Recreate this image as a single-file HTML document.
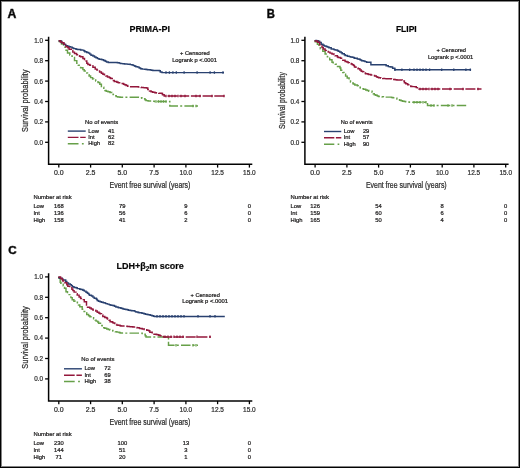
<!DOCTYPE html>
<html><head><meta charset="utf-8"><style>
html,body{margin:0;padding:0;background:#fff;}
#fig{position:relative;width:520px;height:468px;overflow:hidden;background:#fff;}
#fig svg{position:absolute;left:0;top:0;}
text{font-family:"Liberation Sans", sans-serif;stroke:currentColor;stroke-width:0.24px;}
svg{color:#222;}
</style></head><body>
<div id="fig">
<svg width="520" height="468" viewBox="0 0 520 468">
<g opacity="0.995"><text x="7.6" y="17.7" font-size="12.2" text-anchor="start" font-weight="bold" fill="#000" style="stroke-width:0.5px">A</text>
<text x="266.7" y="17.5" font-size="11.9" text-anchor="start" font-weight="bold" textLength="8.1" lengthAdjust="spacingAndGlyphs" fill="#000" style="stroke-width:0.5px">B</text>
<text x="8.2" y="254.3" font-size="11.7" text-anchor="start" font-weight="bold" textLength="8.4" lengthAdjust="spacingAndGlyphs" fill="#000" style="stroke-width:0.5px">C</text>
<g transform="translate(0,0)">
<path d="M48.6,36.7 V164.3 H252.3" fill="none" stroke="#000" stroke-width="1.5"/>
<path d="M45.1,142.3 H48.6" stroke="#000" stroke-width="1.3"/>
<text x="43.1" y="144.7" font-size="7.6" text-anchor="end" textLength="8.8" lengthAdjust="spacingAndGlyphs" fill="#333">0.0</text>
<path d="M45.1,121.9 H48.6" stroke="#000" stroke-width="1.3"/>
<text x="43.1" y="124.2" font-size="7.6" text-anchor="end" textLength="8.8" lengthAdjust="spacingAndGlyphs" fill="#333">0.2</text>
<path d="M45.1,101.5 H48.6" stroke="#000" stroke-width="1.3"/>
<text x="43.1" y="103.9" font-size="7.6" text-anchor="end" textLength="8.8" lengthAdjust="spacingAndGlyphs" fill="#333">0.4</text>
<path d="M45.1,81.1 H48.6" stroke="#000" stroke-width="1.3"/>
<text x="43.1" y="83.5" font-size="7.6" text-anchor="end" textLength="8.8" lengthAdjust="spacingAndGlyphs" fill="#333">0.6</text>
<path d="M45.1,60.7 H48.6" stroke="#000" stroke-width="1.3"/>
<text x="43.1" y="63.1" font-size="7.6" text-anchor="end" textLength="8.8" lengthAdjust="spacingAndGlyphs" fill="#333">0.8</text>
<path d="M45.1,40.3 H48.6" stroke="#000" stroke-width="1.3"/>
<text x="43.1" y="42.7" font-size="7.6" text-anchor="end" textLength="8.8" lengthAdjust="spacingAndGlyphs" fill="#333">1.0</text>
<path d="M58.8,164.3 V167.6" stroke="#000" stroke-width="1.3"/>
<text x="58.8" y="175.0" font-size="7.6" text-anchor="middle" textLength="9.7" lengthAdjust="spacingAndGlyphs" fill="#333">0.0</text>
<path d="M90.6,164.3 V167.6" stroke="#000" stroke-width="1.3"/>
<text x="90.6" y="175.0" font-size="7.6" text-anchor="middle" textLength="9.7" lengthAdjust="spacingAndGlyphs" fill="#333">2.5</text>
<path d="M122.3,164.3 V167.6" stroke="#000" stroke-width="1.3"/>
<text x="122.3" y="175.0" font-size="7.6" text-anchor="middle" textLength="9.7" lengthAdjust="spacingAndGlyphs" fill="#333">5.0</text>
<path d="M154.1,164.3 V167.6" stroke="#000" stroke-width="1.3"/>
<text x="154.1" y="175.0" font-size="7.6" text-anchor="middle" textLength="9.7" lengthAdjust="spacingAndGlyphs" fill="#333">7.5</text>
<path d="M185.9,164.3 V167.6" stroke="#000" stroke-width="1.3"/>
<text x="185.9" y="175.0" font-size="7.6" text-anchor="middle" textLength="12.6" lengthAdjust="spacingAndGlyphs" fill="#333">10.0</text>
<path d="M217.6,164.3 V167.6" stroke="#000" stroke-width="1.3"/>
<text x="217.6" y="175.0" font-size="7.6" text-anchor="middle" textLength="12.6" lengthAdjust="spacingAndGlyphs" fill="#333">12.5</text>
<path d="M249.4,164.3 V167.6" stroke="#000" stroke-width="1.3"/>
<text x="249.4" y="175.0" font-size="7.6" text-anchor="middle" textLength="12.6" lengthAdjust="spacingAndGlyphs" fill="#333">15.0</text>
<text transform="translate(28.4,100.85) rotate(-90)" font-size="9.4" text-anchor="middle" textLength="62.4" lengthAdjust="spacingAndGlyphs" fill="#333">Survival probability</text>
<text x="109.6" y="188.10000000000002" font-size="8.9" text-anchor="start" textLength="80.8" lengthAdjust="spacingAndGlyphs" fill="#333">Event free survival (years)</text>
<text x="33.4" y="198.69" font-size="5.9" text-anchor="start" textLength="38.4" lengthAdjust="spacingAndGlyphs" fill="#231f20">Number at risk</text>
<text x="33.4" y="208.0" font-size="5.8" text-anchor="start" fill="#231f20">Low</text>
<text x="58.8" y="208.0" font-size="5.8" text-anchor="middle" fill="#231f20">168</text>
<text x="122.3" y="208.0" font-size="5.8" text-anchor="middle" fill="#231f20">79</text>
<text x="185.9" y="208.0" font-size="5.8" text-anchor="middle" fill="#231f20">9</text>
<text x="249.4" y="208.0" font-size="5.8" text-anchor="middle" fill="#231f20">0</text>
<text x="33.4" y="214.9" font-size="5.8" text-anchor="start" fill="#231f20">Int</text>
<text x="58.8" y="214.9" font-size="5.8" text-anchor="middle" fill="#231f20">136</text>
<text x="122.3" y="214.9" font-size="5.8" text-anchor="middle" fill="#231f20">56</text>
<text x="185.9" y="214.9" font-size="5.8" text-anchor="middle" fill="#231f20">6</text>
<text x="249.4" y="214.9" font-size="5.8" text-anchor="middle" fill="#231f20">0</text>
<text x="33.4" y="221.8" font-size="5.8" text-anchor="start" fill="#231f20">High</text>
<text x="58.8" y="221.8" font-size="5.8" text-anchor="middle" fill="#231f20">158</text>
<text x="122.3" y="221.8" font-size="5.8" text-anchor="middle" fill="#231f20">41</text>
<text x="185.9" y="221.8" font-size="5.8" text-anchor="middle" fill="#231f20">2</text>
<text x="249.4" y="221.8" font-size="5.8" text-anchor="middle" fill="#231f20">0</text>
</g>
<g transform="translate(256.3,0)">
<path d="M48.6,36.7 V164.3 H252.3" fill="none" stroke="#000" stroke-width="1.5"/>
<path d="M45.1,142.3 H48.6" stroke="#000" stroke-width="1.3"/>
<text x="43.1" y="144.7" font-size="7.6" text-anchor="end" textLength="8.8" lengthAdjust="spacingAndGlyphs" fill="#333">0.0</text>
<path d="M45.1,121.9 H48.6" stroke="#000" stroke-width="1.3"/>
<text x="43.1" y="124.2" font-size="7.6" text-anchor="end" textLength="8.8" lengthAdjust="spacingAndGlyphs" fill="#333">0.2</text>
<path d="M45.1,101.5 H48.6" stroke="#000" stroke-width="1.3"/>
<text x="43.1" y="103.9" font-size="7.6" text-anchor="end" textLength="8.8" lengthAdjust="spacingAndGlyphs" fill="#333">0.4</text>
<path d="M45.1,81.1 H48.6" stroke="#000" stroke-width="1.3"/>
<text x="43.1" y="83.5" font-size="7.6" text-anchor="end" textLength="8.8" lengthAdjust="spacingAndGlyphs" fill="#333">0.6</text>
<path d="M45.1,60.7 H48.6" stroke="#000" stroke-width="1.3"/>
<text x="43.1" y="63.1" font-size="7.6" text-anchor="end" textLength="8.8" lengthAdjust="spacingAndGlyphs" fill="#333">0.8</text>
<path d="M45.1,40.3 H48.6" stroke="#000" stroke-width="1.3"/>
<text x="43.1" y="42.7" font-size="7.6" text-anchor="end" textLength="8.8" lengthAdjust="spacingAndGlyphs" fill="#333">1.0</text>
<path d="M58.8,164.3 V167.6" stroke="#000" stroke-width="1.3"/>
<text x="58.8" y="175.0" font-size="7.6" text-anchor="middle" textLength="9.7" lengthAdjust="spacingAndGlyphs" fill="#333">0.0</text>
<path d="M90.6,164.3 V167.6" stroke="#000" stroke-width="1.3"/>
<text x="90.6" y="175.0" font-size="7.6" text-anchor="middle" textLength="9.7" lengthAdjust="spacingAndGlyphs" fill="#333">2.5</text>
<path d="M122.3,164.3 V167.6" stroke="#000" stroke-width="1.3"/>
<text x="122.3" y="175.0" font-size="7.6" text-anchor="middle" textLength="9.7" lengthAdjust="spacingAndGlyphs" fill="#333">5.0</text>
<path d="M154.1,164.3 V167.6" stroke="#000" stroke-width="1.3"/>
<text x="154.1" y="175.0" font-size="7.6" text-anchor="middle" textLength="9.7" lengthAdjust="spacingAndGlyphs" fill="#333">7.5</text>
<path d="M185.9,164.3 V167.6" stroke="#000" stroke-width="1.3"/>
<text x="185.9" y="175.0" font-size="7.6" text-anchor="middle" textLength="12.6" lengthAdjust="spacingAndGlyphs" fill="#333">10.0</text>
<path d="M217.6,164.3 V167.6" stroke="#000" stroke-width="1.3"/>
<text x="217.6" y="175.0" font-size="7.6" text-anchor="middle" textLength="12.6" lengthAdjust="spacingAndGlyphs" fill="#333">12.5</text>
<path d="M249.4,164.3 V167.6" stroke="#000" stroke-width="1.3"/>
<text x="249.4" y="175.0" font-size="7.6" text-anchor="middle" textLength="12.6" lengthAdjust="spacingAndGlyphs" fill="#333">15.0</text>
<text transform="translate(28.4,100.6) rotate(-90)" font-size="9.4" text-anchor="middle" textLength="56.8" lengthAdjust="spacingAndGlyphs" fill="#333">Survival probability</text>
<text x="109.6" y="188.10000000000002" font-size="8.9" text-anchor="start" textLength="80.8" lengthAdjust="spacingAndGlyphs" fill="#333">Event free survival (years)</text>
<text x="34.3" y="198.66" font-size="5.9" text-anchor="start" textLength="38.4" lengthAdjust="spacingAndGlyphs" fill="#231f20">Number at risk</text>
<text x="34.3" y="207.89999999999998" font-size="5.8" text-anchor="start" fill="#231f20">Low</text>
<text x="58.8" y="207.89999999999998" font-size="5.8" text-anchor="middle" fill="#231f20">126</text>
<text x="122.3" y="207.89999999999998" font-size="5.8" text-anchor="middle" fill="#231f20">54</text>
<text x="185.9" y="207.89999999999998" font-size="5.8" text-anchor="middle" fill="#231f20">8</text>
<text x="249.4" y="207.89999999999998" font-size="5.8" text-anchor="middle" fill="#231f20">0</text>
<text x="34.3" y="214.79999999999998" font-size="5.8" text-anchor="start" fill="#231f20">Int</text>
<text x="58.8" y="214.79999999999998" font-size="5.8" text-anchor="middle" fill="#231f20">159</text>
<text x="122.3" y="214.79999999999998" font-size="5.8" text-anchor="middle" fill="#231f20">60</text>
<text x="185.9" y="214.79999999999998" font-size="5.8" text-anchor="middle" fill="#231f20">6</text>
<text x="249.4" y="214.79999999999998" font-size="5.8" text-anchor="middle" fill="#231f20">0</text>
<text x="34.3" y="221.7" font-size="5.8" text-anchor="start" fill="#231f20">High</text>
<text x="58.8" y="221.7" font-size="5.8" text-anchor="middle" fill="#231f20">165</text>
<text x="122.3" y="221.7" font-size="5.8" text-anchor="middle" fill="#231f20">50</text>
<text x="185.9" y="221.7" font-size="5.8" text-anchor="middle" fill="#231f20">4</text>
<text x="249.4" y="221.7" font-size="5.8" text-anchor="middle" fill="#231f20">0</text>
</g>
<g transform="translate(0,236.6)">
<path d="M48.6,36.7 V164.3 H252.3" fill="none" stroke="#000" stroke-width="1.5"/>
<path d="M45.1,142.3 H48.6" stroke="#000" stroke-width="1.3"/>
<text x="43.1" y="144.7" font-size="7.6" text-anchor="end" textLength="8.8" lengthAdjust="spacingAndGlyphs" fill="#333">0.0</text>
<path d="M45.1,121.9 H48.6" stroke="#000" stroke-width="1.3"/>
<text x="43.1" y="124.2" font-size="7.6" text-anchor="end" textLength="8.8" lengthAdjust="spacingAndGlyphs" fill="#333">0.2</text>
<path d="M45.1,101.5 H48.6" stroke="#000" stroke-width="1.3"/>
<text x="43.1" y="103.9" font-size="7.6" text-anchor="end" textLength="8.8" lengthAdjust="spacingAndGlyphs" fill="#333">0.4</text>
<path d="M45.1,81.1 H48.6" stroke="#000" stroke-width="1.3"/>
<text x="43.1" y="83.5" font-size="7.6" text-anchor="end" textLength="8.8" lengthAdjust="spacingAndGlyphs" fill="#333">0.6</text>
<path d="M45.1,60.7 H48.6" stroke="#000" stroke-width="1.3"/>
<text x="43.1" y="63.1" font-size="7.6" text-anchor="end" textLength="8.8" lengthAdjust="spacingAndGlyphs" fill="#333">0.8</text>
<path d="M45.1,40.3 H48.6" stroke="#000" stroke-width="1.3"/>
<text x="43.1" y="42.7" font-size="7.6" text-anchor="end" textLength="8.8" lengthAdjust="spacingAndGlyphs" fill="#333">1.0</text>
<path d="M58.8,164.3 V167.6" stroke="#000" stroke-width="1.3"/>
<text x="58.8" y="175.0" font-size="7.6" text-anchor="middle" textLength="9.7" lengthAdjust="spacingAndGlyphs" fill="#333">0.0</text>
<path d="M90.6,164.3 V167.6" stroke="#000" stroke-width="1.3"/>
<text x="90.6" y="175.0" font-size="7.6" text-anchor="middle" textLength="9.7" lengthAdjust="spacingAndGlyphs" fill="#333">2.5</text>
<path d="M122.3,164.3 V167.6" stroke="#000" stroke-width="1.3"/>
<text x="122.3" y="175.0" font-size="7.6" text-anchor="middle" textLength="9.7" lengthAdjust="spacingAndGlyphs" fill="#333">5.0</text>
<path d="M154.1,164.3 V167.6" stroke="#000" stroke-width="1.3"/>
<text x="154.1" y="175.0" font-size="7.6" text-anchor="middle" textLength="9.7" lengthAdjust="spacingAndGlyphs" fill="#333">7.5</text>
<path d="M185.9,164.3 V167.6" stroke="#000" stroke-width="1.3"/>
<text x="185.9" y="175.0" font-size="7.6" text-anchor="middle" textLength="12.6" lengthAdjust="spacingAndGlyphs" fill="#333">10.0</text>
<path d="M217.6,164.3 V167.6" stroke="#000" stroke-width="1.3"/>
<text x="217.6" y="175.0" font-size="7.6" text-anchor="middle" textLength="12.6" lengthAdjust="spacingAndGlyphs" fill="#333">12.5</text>
<path d="M249.4,164.3 V167.6" stroke="#000" stroke-width="1.3"/>
<text x="249.4" y="175.0" font-size="7.6" text-anchor="middle" textLength="12.6" lengthAdjust="spacingAndGlyphs" fill="#333">15.0</text>
<text transform="translate(28.4,100.85) rotate(-90)" font-size="9.4" text-anchor="middle" textLength="62.4" lengthAdjust="spacingAndGlyphs" fill="#333">Survival probability</text>
<text x="109.6" y="188.8" font-size="8.9" text-anchor="start" textLength="80.8" lengthAdjust="spacingAndGlyphs" fill="#333">Event free survival (years)</text>
<text x="33.4" y="198.93" font-size="5.9" text-anchor="start" textLength="38.4" lengthAdjust="spacingAndGlyphs" fill="#231f20">Number at risk</text>
<text x="33.4" y="208.79999999999998" font-size="5.8" text-anchor="start" fill="#231f20">Low</text>
<text x="58.8" y="208.79999999999998" font-size="5.8" text-anchor="middle" fill="#231f20">230</text>
<text x="122.3" y="208.79999999999998" font-size="5.8" text-anchor="middle" fill="#231f20">100</text>
<text x="185.9" y="208.79999999999998" font-size="5.8" text-anchor="middle" fill="#231f20">13</text>
<text x="249.4" y="208.79999999999998" font-size="5.8" text-anchor="middle" fill="#231f20">0</text>
<text x="33.4" y="215.7" font-size="5.8" text-anchor="start" fill="#231f20">Int</text>
<text x="58.8" y="215.7" font-size="5.8" text-anchor="middle" fill="#231f20">144</text>
<text x="122.3" y="215.7" font-size="5.8" text-anchor="middle" fill="#231f20">51</text>
<text x="185.9" y="215.7" font-size="5.8" text-anchor="middle" fill="#231f20">3</text>
<text x="249.4" y="215.7" font-size="5.8" text-anchor="middle" fill="#231f20">0</text>
<text x="33.4" y="222.6" font-size="5.8" text-anchor="start" fill="#231f20">High</text>
<text x="58.8" y="222.6" font-size="5.8" text-anchor="middle" fill="#231f20">71</text>
<text x="122.3" y="222.6" font-size="5.8" text-anchor="middle" fill="#231f20">20</text>
<text x="185.9" y="222.6" font-size="5.8" text-anchor="middle" fill="#231f20">1</text>
<text x="249.4" y="222.6" font-size="5.8" text-anchor="middle" fill="#231f20">0</text>
</g>
<text x="129.5" y="31.9" font-size="9" text-anchor="start" font-weight="bold" textLength="40.5" lengthAdjust="spacingAndGlyphs" fill="#000">PRIMA-PI</text>
<text x="395.9" y="31.8" font-size="9" text-anchor="start" font-weight="bold" textLength="20.8" lengthAdjust="spacingAndGlyphs" fill="#000">FLIPI</text>
<text x="116.4" y="268.8" font-size="9" font-weight="bold" fill="#000">LDH+&#946;<tspan font-size="6.5" dy="2">2</tspan><tspan dy="-2">m score</tspan></text>
<text x="180" y="54.8" font-size="5.6" text-anchor="start" textLength="29.8" lengthAdjust="spacingAndGlyphs" fill="#231f20">+ Censored</text>
<text x="172.2" y="61.5" font-size="5.6" text-anchor="start" textLength="44.7" lengthAdjust="spacingAndGlyphs" fill="#231f20">Logrank p &lt;.0001</text>
<text x="436.5" y="51.9" font-size="5.6" text-anchor="start" textLength="29.5" lengthAdjust="spacingAndGlyphs" fill="#231f20">+ Censored</text>
<text x="427.9" y="58.9" font-size="5.6" text-anchor="start" textLength="45.3" lengthAdjust="spacingAndGlyphs" fill="#231f20">Logrank p &lt;.0001</text>
<text x="190.6" y="296.9" font-size="5.6" text-anchor="start" textLength="29.2" lengthAdjust="spacingAndGlyphs" fill="#231f20">+ Censored</text>
<text x="182.2" y="303.3" font-size="5.6" text-anchor="start" textLength="45.8" lengthAdjust="spacingAndGlyphs" fill="#231f20">Logrank p &lt;.0001</text>
<text x="85.1" y="123.7" font-size="5.9" text-anchor="start" textLength="33.1" lengthAdjust="spacingAndGlyphs" fill="#231f20">No of events</text>
<path d="M67.8,131.1 H85.7" stroke="#28406f" stroke-width="1.4"/>
<text x="88.2" y="132.7" font-size="5.8" text-anchor="start" fill="#231f20">Low</text>
<text x="108.1" y="132.7" font-size="5.8" text-anchor="start" fill="#231f20">41</text>
<path d="M67.8,137.4 H85.7" stroke="#93163a" stroke-width="1.4" stroke-dasharray="10.7 1.7"/>
<text x="88.2" y="139.0" font-size="5.8" text-anchor="start" fill="#231f20">Int</text>
<text x="108.1" y="139.0" font-size="5.8" text-anchor="start" fill="#231f20">62</text>
<path d="M67.8,143.8 H85.7" stroke="#66a048" stroke-width="1.4" stroke-dasharray="10.7 3.4 1.8 10"/>
<text x="88.2" y="145.4" font-size="5.8" text-anchor="start" fill="#231f20">High</text>
<text x="108.1" y="145.4" font-size="5.8" text-anchor="start" fill="#231f20">82</text>
<text x="340.7" y="124.1" font-size="5.9" text-anchor="start" textLength="31.9" lengthAdjust="spacingAndGlyphs" fill="#231f20">No of events</text>
<path d="M324.0,131.5 H341.3" stroke="#28406f" stroke-width="1.4"/>
<text x="343.7" y="133.1" font-size="5.8" text-anchor="start" fill="#231f20">Low</text>
<text x="362.9" y="133.1" font-size="5.8" text-anchor="start" fill="#231f20">29</text>
<path d="M324.0,137.8 H341.3" stroke="#93163a" stroke-width="1.4" stroke-dasharray="10.3 1.6"/>
<text x="343.7" y="139.4" font-size="5.8" text-anchor="start" fill="#231f20">Int</text>
<text x="362.9" y="139.4" font-size="5.8" text-anchor="start" fill="#231f20">57</text>
<path d="M324.0,144.2 H341.3" stroke="#66a048" stroke-width="1.4" stroke-dasharray="10.3 3.3 1.7 10"/>
<text x="343.7" y="145.8" font-size="5.8" text-anchor="start" fill="#231f20">High</text>
<text x="362.9" y="145.8" font-size="5.8" text-anchor="start" fill="#231f20">90</text>
<text x="81.3" y="361.4" font-size="5.9" text-anchor="start" textLength="33.1" lengthAdjust="spacingAndGlyphs" fill="#231f20">No of events</text>
<path d="M64.0,368.8 H81.9" stroke="#28406f" stroke-width="1.4"/>
<text x="84.4" y="370.4" font-size="5.8" text-anchor="start" fill="#231f20">Low</text>
<text x="104.3" y="370.4" font-size="5.8" text-anchor="start" fill="#231f20">72</text>
<path d="M64.0,375.2 H81.9" stroke="#93163a" stroke-width="1.4" stroke-dasharray="10.7 1.7"/>
<text x="84.4" y="376.8" font-size="5.8" text-anchor="start" fill="#231f20">Int</text>
<text x="104.3" y="376.8" font-size="5.8" text-anchor="start" fill="#231f20">69</text>
<path d="M64.0,381.5 H81.9" stroke="#66a048" stroke-width="1.4" stroke-dasharray="10.7 3.4 1.8 10"/>
<text x="84.4" y="383.1" font-size="5.8" text-anchor="start" fill="#231f20">High</text>
<text x="104.3" y="383.1" font-size="5.8" text-anchor="start" fill="#231f20">38</text>
<polyline points="59.3,40.3 59.3,41.4 61.5,41.4 61.5,44.0 63.5,44.0 63.5,47.1 65.2,47.1 65.2,50.2 67.5,50.2 67.5,53.0 69.8,53.0 69.8,55.0 71.2,55.0 71.2,56.0 72.2,56.0 72.2,57.5 74.5,57.5 74.5,60.6 76.8,60.6 76.8,63.3 78.3,63.3 78.3,65.2 80.6,65.2 80.6,67.8 82.9,67.8 82.9,69.6 84.2,69.6 84.2,70.9 86.0,70.9 86.0,72.9 87.5,72.9 87.5,74.6 89.1,74.6 89.1,76.0 90.6,76.0 90.6,77.6 92.6,77.6 92.6,78.9 93.7,78.9 93.7,80.0 95.7,80.0 95.7,81.0 96.8,81.0 96.8,81.8 98.0,81.8 98.0,82.5 99.8,82.5 99.8,84.2 101.4,84.2 101.4,87.2 103.8,87.2 103.8,89.3 104.8,89.3 104.8,90.4 106.2,90.4 106.2,91.2 108.0,91.2 108.0,91.8 110.0,91.8 110.0,92.5 111.9,92.5 111.9,93.5 113.1,93.5 113.1,94.6 114.7,94.6 114.7,95.8 116.2,95.8 116.2,96.6 117.8,96.6 117.8,97.0 120.0,97.0 120.0,97.2 138.4,97.2 138.4,97.3 140.8,97.3 140.8,97.7 141.9,97.7 141.9,98.2 143.7,98.2 143.7,98.8 145.0,98.8 145.0,99.8 146.0,99.8 146.0,100.6 148.1,100.6 148.1,100.9 149.8,100.9 149.8,101.0 152.0,101.0 152.0,101.2 153.1,101.2 153.1,101.3 154.7,101.3 154.7,101.4 169.8,101.4 169.8,106.0 170.3,106.0 170.3,106.0 198.0,106.0" fill="none" stroke="#66a048" stroke-width="1.45" stroke-linejoin="miter" stroke-miterlimit="2" stroke-dasharray="9.5 2.2 2 2.2"/>
<polyline points="59.3,40.3 59.3,41.0 61.5,41.0 61.5,42.8 63.7,42.8 63.7,44.4 65.7,44.4 65.7,45.6 67.5,45.6 67.5,46.3 69.0,46.3 69.0,46.7 70.6,46.7 70.6,47.1 72.2,47.1 72.2,47.9 73.7,47.9 73.7,48.6 76.0,48.6 76.0,49.2 77.5,49.2 77.5,49.5 80.6,49.5 80.6,49.8 80.6,49.9 82.2,49.9 82.2,50.1 83.7,50.1 83.7,50.7 84.8,50.7 84.8,51.7 86.8,51.7 86.8,52.5 88.6,52.5 88.6,53.1 89.8,53.1 89.8,54.1 91.0,54.1 91.0,55.2 92.9,55.2 92.9,56.0 94.5,56.0 94.5,57.0 96.0,57.0 96.0,57.8 97.5,57.8 97.5,58.6 99.1,58.6 99.1,59.2 101.3,59.2 101.3,59.4 102.2,59.4 102.2,59.8 103.6,59.8 103.6,60.5 105.2,60.5 105.2,61.3 106.5,61.3 106.5,62.0 108.3,62.0 108.3,62.5 117.4,62.5 117.4,62.7 119.2,62.7 119.2,63.1 120.4,63.1 120.4,63.4 121.7,63.4 121.7,63.6 123.0,63.6 123.0,63.8 124.5,63.8 124.5,63.9 126.9,63.9 126.9,64.1 128.1,64.1 128.1,64.3 130.3,64.3 130.3,64.6 132.1,64.6 132.1,65.0 133.5,65.0 133.5,65.6 134.9,65.6 134.9,66.3 136.0,66.3 136.0,66.7 137.8,66.7 137.8,67.1 139.2,67.1 139.2,67.9 140.6,67.9 140.6,68.7 142.1,68.7 142.1,69.1 144.6,69.1 144.6,69.2 146.1,69.2 146.1,69.4 147.5,69.4 147.5,69.7 150.3,69.7 150.3,70.0 151.6,70.0 151.6,70.3 152.9,70.3 152.9,70.5 159.4,70.5 159.4,70.8 160.3,70.8 160.3,71.9 162.0,71.9 162.0,72.6 224.0,72.6" fill="none" stroke="#28406f" stroke-width="1.45" stroke-linejoin="miter" stroke-miterlimit="2"/>
<polyline points="59.3,40.3 59.3,40.8 60.4,40.8 60.4,41.9 62.0,41.9 62.0,42.7 63.8,42.7 63.8,43.9 64.6,43.9 64.6,45.4 66.0,45.4 66.0,46.7 67.9,46.7 67.9,47.8 69.1,47.8 69.1,49.2 71.4,49.2 71.4,50.8 72.8,50.8 72.8,52.1 74.5,52.1 74.5,53.5 76.6,53.5 76.6,54.7 77.5,54.7 77.5,55.6 79.5,55.6 79.5,56.2 80.6,56.2 80.6,56.8 82.9,56.8 82.9,58.5 84.5,58.5 84.5,61.0 86.8,61.0 86.8,63.2 87.9,63.2 87.9,64.5 89.8,64.5 89.8,65.2 91.2,65.2 91.2,65.8 92.9,65.8 92.9,67.3 95.2,67.3 95.2,69.1 96.9,69.1 96.9,70.0 98.3,70.0 98.3,71.0 99.6,71.0 99.6,72.0 101.4,72.0 101.4,73.2 102.9,73.2 102.9,74.2 104.5,74.2 104.5,75.1 105.9,75.1 105.9,76.0 107.5,76.0 107.5,76.9 109.5,76.9 109.5,77.7 110.6,77.7 110.6,78.4 112.3,78.4 112.3,79.3 113.4,79.3 113.4,80.4 114.3,80.4 114.3,81.4 116.9,81.4 116.9,82.2 118.3,82.2 118.3,82.8 120.8,82.8 120.8,83.4 123.5,83.4 123.5,84.2 124.6,84.2 124.6,84.8 126.1,84.8 126.1,85.5 127.7,85.5 127.7,86.3 129.6,86.3 129.6,86.7 130.8,86.7 130.8,86.8 138.4,86.8 138.4,87.1 138.4,87.1 139.5,87.1 139.5,87.3 141.1,87.3 141.1,87.4 143.2,87.4 143.2,87.6 144.2,87.6 144.2,87.8 146.5,87.8 146.5,88.0 147.8,88.0 147.8,89.4 149.5,89.4 149.5,91.0 151.1,91.0 151.1,91.7 152.7,91.7 152.7,92.3 154.9,92.3 154.9,92.8 156.4,92.8 156.4,93.1 158.8,93.1 158.8,93.2 160.3,93.2 160.3,93.3 161.9,93.3 161.9,93.4 162.5,93.4 162.5,94.7 164.2,94.7 164.2,95.9 225.6,95.9" fill="none" stroke="#93163a" stroke-width="1.45" stroke-linejoin="miter" stroke-miterlimit="2" stroke-dasharray="10 1.7"/>
<polyline points="315.2,40.3 315.2,41.8 317.4,41.8 317.4,44.2 318.9,44.2 318.9,46.4 320.3,46.4 320.3,48.7 322.8,48.7 322.8,51.3 325.1,51.3 325.1,54.0 327.4,54.0 327.4,56.8 329.7,56.8 329.7,59.8 332.0,59.8 332.0,62.3 333.2,62.3 333.2,63.6 335.3,63.6 335.3,64.3 336.3,64.3 336.3,65.2 337.5,65.2 337.5,66.4 340.0,66.4 340.0,68.0 340.8,68.0 340.8,70.3 342.8,70.3 342.8,72.4 344.0,72.4 344.0,74.2 345.6,74.2 345.6,76.1 347.2,76.1 347.2,78.0 349.1,78.0 349.1,80.1 350.5,80.1 350.5,81.9 351.9,81.9 351.9,82.9 353.2,82.9 353.2,83.9 354.8,83.9 354.8,84.9 357.4,84.9 357.4,85.8 358.2,85.8 358.2,86.6 359.1,86.6 359.1,87.3 360.3,87.3 360.3,87.9 361.4,87.9 361.4,88.6 363.4,88.6 363.4,89.2 365.7,89.2 365.7,89.9 367.2,89.9 367.2,90.5 368.8,90.5 368.8,91.2 372.1,91.2 372.1,92.3 373.2,92.3 373.2,93.8 374.3,93.8 374.3,94.8 375.7,94.8 375.7,95.3 377.3,95.3 377.3,95.9 378.6,95.9 378.6,96.4 380.2,96.4 380.2,96.5 382.0,96.5 382.0,96.7 383.4,96.7 383.4,97.0 385.1,97.0 385.1,97.1 391.5,97.1 391.5,97.4 392.9,97.4 392.9,97.8 395.2,97.8 395.2,98.1 396.9,98.1 396.9,98.9 398.6,98.9 398.6,99.8 399.6,99.8 399.6,100.3 401.2,100.3 401.2,100.7 402.6,100.7 402.6,101.2 404.4,101.2 404.4,101.5 405.7,101.5 405.7,101.8 406.6,101.8 406.6,102.0 409.3,102.0 409.3,102.2 410.9,102.2 410.9,102.3 427.5,102.3 427.5,105.5 427.9,105.5 427.9,105.5 466.8,105.5" fill="none" stroke="#66a048" stroke-width="1.45" stroke-linejoin="miter" stroke-miterlimit="2" stroke-dasharray="9.5 2.2 2 2.2"/>
<polyline points="315.2,40.3 315.2,40.5 316.6,40.5 316.6,40.8 318.2,40.8 318.2,41.3 319.6,41.3 319.6,42.5 321.2,42.5 321.2,44.2 323.0,44.2 323.0,45.3 324.3,45.3 324.3,45.9 326.1,45.9 326.1,46.5 327.4,46.5 327.4,47.0 328.9,47.0 328.9,47.8 331.2,47.8 331.2,48.9 333.9,48.9 333.9,49.6 335.1,49.6 335.1,49.9 337.2,49.9 337.2,50.5 338.2,50.5 338.2,51.3 339.7,51.3 339.7,51.9 341.2,51.9 341.2,52.7 342.2,52.7 342.2,53.7 344.3,53.7 344.3,54.7 345.2,54.7 345.2,55.5 347.4,55.5 347.4,56.2 349.4,56.2 349.4,56.6 350.5,56.6 350.5,56.9 352.2,56.9 352.2,57.3 353.7,57.3 353.7,57.7 354.6,57.7 354.6,58.2 357.3,58.2 357.3,58.9 359.1,58.9 359.1,59.2 360.2,59.2 360.2,60.0 361.6,60.0 361.6,60.7 363.4,60.7 363.4,60.9 364.9,60.9 364.9,61.6 366.6,61.6 366.6,62.2 370.9,62.2 370.9,64.8 371.6,64.8 371.6,64.8 386.1,64.8 386.1,65.7 388.3,65.7 388.3,66.6 389.5,66.6 389.5,66.8 390.8,66.8 390.8,66.9 392.6,66.9 392.6,68.3 394.8,68.3 394.8,69.7 471.1,69.7" fill="none" stroke="#28406f" stroke-width="1.45" stroke-linejoin="miter" stroke-miterlimit="2"/>
<polyline points="315.2,40.3 315.2,40.9 317.5,40.9 317.5,42.2 319.7,42.2 319.7,44.8 322.0,44.8 322.0,47.4 323.3,47.4 323.3,48.9 325.1,48.9 325.1,50.4 326.2,50.4 326.2,51.4 328.2,51.4 328.2,52.1 330.0,52.1 330.0,53.1 332.0,53.1 332.0,54.0 334.0,54.0 334.0,54.5 335.1,54.5 335.1,55.8 337.4,55.8 337.4,57.0 338.2,57.0 338.2,57.4 340.5,57.4 340.5,58.3 342.8,58.3 342.8,60.2 345.1,60.2 345.1,61.5 346.9,61.5 346.9,61.9 348.2,61.9 348.2,62.7 349.3,62.7 349.3,63.4 351.2,63.4 351.2,64.0 352.4,64.0 352.4,64.7 353.7,64.7 353.7,65.6 354.5,65.6 354.5,66.9 356.0,66.9 356.0,68.0 358.0,68.0 358.0,68.7 359.9,68.7 359.9,70.0 361.2,70.0 361.2,71.3 362.6,71.3 362.6,71.8 363.7,71.8 363.7,72.9 365.5,72.9 365.5,73.8 367.7,73.8 367.7,74.0 368.5,74.0 368.5,74.5 370.9,74.5 370.9,75.0 373.1,75.0 373.1,75.4 374.6,75.4 374.6,76.0 376.3,76.0 376.3,76.6 377.1,76.6 377.1,77.2 378.6,77.2 378.6,77.7 380.7,77.7 380.7,78.1 382.7,78.1 382.7,78.4 384.6,78.4 384.6,78.6 386.1,78.6 386.1,78.8 391.5,78.8 391.5,79.1 393.7,79.1 393.7,79.5 395.3,79.5 395.3,79.8 396.9,79.8 396.9,79.9 402.3,79.9 402.3,81.0 404.4,81.0 404.4,82.8 405.8,82.8 405.8,83.8 407.7,83.8 407.7,84.8 408.8,84.8 408.8,85.9 410.9,85.9 410.9,86.5 412.5,86.5 412.5,86.6 415.1,86.6 415.1,86.8 416.3,86.8 416.3,87.6 417.5,87.6 417.5,88.6 419.0,88.6 419.0,89.0 481.5,89.0" fill="none" stroke="#93163a" stroke-width="1.45" stroke-linejoin="miter" stroke-miterlimit="2" stroke-dasharray="10 1.7"/>
<polyline points="58.7,276.7 58.7,277.9 60.2,277.9 60.2,282.2 60.8,282.2 60.8,283.2 61.6,283.2 61.6,284.5 63.2,284.5 63.2,285.7 64.5,285.7 64.5,288.2 66.0,288.2 66.0,291.8 67.5,291.8 67.5,294.6 69.8,294.6 69.8,296.3 70.9,296.3 70.9,297.6 72.2,297.6 72.2,299.7 73.9,299.7 73.9,301.2 75.2,301.2 75.2,302.3 77.4,302.3 77.4,303.8 78.5,303.8 78.5,305.0 79.8,305.0 79.8,306.7 82.2,306.7 82.2,309.3 84.1,309.3 84.1,311.4 85.4,311.4 85.4,312.8 86.7,312.8 86.7,314.4 88.6,314.4 88.6,315.7 89.9,315.7 89.9,316.8 91.8,316.8 91.8,317.8 93.6,317.8 93.6,318.8 95.2,318.8 95.2,320.1 96.1,320.1 96.1,321.1 97.7,321.1 97.7,321.9 98.6,321.9 98.6,323.3 100.5,323.3 100.5,325.5 102.2,325.5 102.2,327.3 102.9,327.3 102.9,327.8 104.7,327.8 104.7,328.3 106.7,328.3 106.7,328.9 108.3,328.9 108.3,329.5 109.8,329.5 109.8,330.1 111.0,330.1 111.0,330.5 112.9,330.5 112.9,331.1 113.6,331.1 113.6,331.4 115.3,331.4 115.3,331.7 116.9,331.7 116.9,332.1 119.1,332.1 119.1,332.5 120.1,332.5 120.1,332.9 122.2,332.9 122.2,333.1 142.2,333.1 142.2,333.4 143.0,333.4 143.0,334.2 145.2,334.2 145.2,335.8 146.0,335.8 146.0,336.9 168.5,336.9 168.5,345.2 169.0,345.2 169.0,345.2 198.0,345.2" fill="none" stroke="#66a048" stroke-width="1.45" stroke-linejoin="miter" stroke-miterlimit="2" stroke-dasharray="9.5 2.2 2 2.2"/>
<polyline points="58.7,276.7 58.7,277.4 59.7,277.4 59.7,278.3 62.1,278.3 62.1,278.9 62.9,278.9 62.9,280.0 65.7,280.0 65.7,281.5 66.8,281.5 66.8,283.0 68.5,283.0 68.5,284.0 70.3,284.0 70.3,284.6 71.4,284.6 71.4,285.6 72.4,285.6 72.4,286.8 74.0,286.8 74.0,287.4 76.0,287.4 76.0,287.8 77.2,287.8 77.2,288.6 79.8,288.6 79.8,289.3 81.1,289.3 81.1,289.5 82.9,289.5 82.9,290.2 84.3,290.2 84.3,291.1 86.0,291.1 86.0,292.2 87.4,292.2 87.4,293.2 88.6,293.2 88.6,294.1 89.4,294.1 89.4,295.2 91.5,295.2 91.5,296.0 92.9,296.0 92.9,297.1 94.2,297.1 94.2,298.3 96.4,298.3 96.4,299.3 97.2,299.3 97.2,300.5 98.5,300.5 98.5,301.2 100.1,301.2 100.1,301.7 101.5,301.7 101.5,302.2 103.3,302.2 103.3,302.7 105.0,302.7 105.0,303.1 105.8,303.1 105.8,303.6 107.4,303.6 107.4,304.1 109.1,304.1 109.1,304.6 110.1,304.6 110.1,305.0 111.1,305.0 111.1,305.3 112.7,305.3 112.7,305.5 114.4,305.5 114.4,306.2 115.9,306.2 115.9,307.0 118.0,307.0 118.0,307.5 118.8,307.5 118.8,307.8 120.9,307.8 120.9,308.2 122.1,308.2 122.1,308.5 123.1,308.5 123.1,308.9 124.5,308.9 124.5,309.2 125.8,309.2 125.8,309.5 127.4,309.5 127.4,309.8 128.4,309.8 128.4,310.2 130.2,310.2 130.2,310.5 131.7,310.5 131.7,310.8 134.4,310.8 134.4,311.1 135.3,311.1 135.3,311.6 136.0,311.6 136.0,312.0 138.0,312.0 138.0,312.4 139.2,312.4 139.2,312.7 141.6,312.7 141.6,313.0 142.2,313.0 142.2,313.2 143.9,313.2 143.9,313.7 145.4,313.7 145.4,314.2 147.1,314.2 147.1,314.5 148.3,314.5 148.3,314.7 150.2,314.7 150.2,315.2 151.9,315.2 151.9,315.8 153.5,315.8 153.5,316.3 154.5,316.3 154.5,316.4 224.8,316.4" fill="none" stroke="#28406f" stroke-width="1.45" stroke-linejoin="miter" stroke-miterlimit="2"/>
<polyline points="58.7,276.7 58.7,277.0 60.6,277.0 60.6,278.4 62.2,278.4 62.2,279.7 62.8,279.7 62.8,281.0 64.4,281.0 64.4,282.8 66.8,282.8 66.8,284.7 67.8,284.7 67.8,286.2 69.8,286.2 69.8,287.7 71.9,287.7 71.9,289.3 72.9,289.3 72.9,290.6 74.1,290.6 74.1,292.1 76.0,292.1 76.0,293.6 77.2,293.6 77.2,295.1 79.1,295.1 79.1,297.0 80.6,297.0 80.6,298.4 82.2,298.4 82.2,299.6 84.3,299.6 84.3,301.8 86.5,301.8 86.5,305.0 87.5,305.0 87.5,307.2 89.7,307.2 89.7,307.9 91.2,307.9 91.2,309.0 92.9,309.0 92.9,309.9 94.9,309.9 94.9,310.3 95.7,310.3 95.7,311.0 97.2,311.0 97.2,312.2 99.0,312.2 99.0,313.2 100.1,313.2 100.1,313.8 101.5,313.8 101.5,314.9 102.8,314.9 102.8,316.5 104.8,316.5 104.8,317.5 106.6,317.5 106.6,318.0 107.4,318.0 107.4,318.9 109.1,318.9 109.1,320.3 110.1,320.3 110.1,321.7 112.3,321.7 112.3,322.3 113.1,322.3 113.1,323.0 114.8,323.0 114.8,324.2 116.6,324.2 116.6,324.9 117.9,324.9 117.9,325.3 120.0,325.3 120.0,325.7 120.9,325.7 120.9,325.9 123.0,325.9 123.0,326.0 123.8,326.0 123.8,326.1 125.1,326.1 125.1,326.2 127.4,326.2 127.4,326.4 129.4,326.4 129.4,326.6 130.2,326.6 130.2,326.8 132.8,326.8 132.8,326.9 134.3,326.9 134.3,327.1 136.0,327.1 136.0,327.5 136.9,327.5 136.9,327.8 139.2,327.8 139.2,328.1 139.9,328.1 139.9,328.4 142.2,328.4 142.2,328.9 144.3,328.9 144.3,329.4 145.7,329.4 145.7,329.8 146.8,329.8 146.8,330.3 148.7,330.3 148.7,330.7 149.8,330.7 149.8,332.2 152.2,332.2 152.2,333.8 153.1,333.8 153.1,334.2 156.3,334.2 156.3,334.5 157.5,334.5 157.5,334.8 158.8,334.8 158.8,335.2 160.2,335.2 160.2,335.8 162.2,335.8 162.2,336.5 163.5,336.5 163.5,336.9 210.9,336.9" fill="none" stroke="#93163a" stroke-width="1.45" stroke-linejoin="miter" stroke-miterlimit="2" stroke-dasharray="10 1.7"/>
<path d="M166.0,71.3 V73.8" stroke="#28406f" stroke-width="1.3"/>
<path d="M169.4,71.3 V73.8" stroke="#28406f" stroke-width="1.3"/>
<path d="M172.9,71.3 V73.8" stroke="#28406f" stroke-width="1.3"/>
<path d="M176.3,71.3 V73.8" stroke="#28406f" stroke-width="1.3"/>
<path d="M184.1,71.3 V73.8" stroke="#28406f" stroke-width="1.3"/>
<path d="M197.1,71.3 V73.8" stroke="#28406f" stroke-width="1.3"/>
<path d="M210.1,71.3 V73.8" stroke="#28406f" stroke-width="1.3"/>
<path d="M214.4,71.3 V73.8" stroke="#28406f" stroke-width="1.3"/>
<path d="M223.0,71.3 V73.8" stroke="#28406f" stroke-width="1.3"/>
<path d="M166.0,94.7 V97.2" stroke="#93163a" stroke-width="1.3"/>
<path d="M169.0,94.7 V97.2" stroke="#93163a" stroke-width="1.3"/>
<path d="M172.0,94.7 V97.2" stroke="#93163a" stroke-width="1.3"/>
<path d="M175.0,94.7 V97.2" stroke="#93163a" stroke-width="1.3"/>
<path d="M178.0,94.7 V97.2" stroke="#93163a" stroke-width="1.3"/>
<path d="M181.0,94.7 V97.2" stroke="#93163a" stroke-width="1.3"/>
<path d="M185.0,94.7 V97.2" stroke="#93163a" stroke-width="1.3"/>
<path d="M196.0,94.7 V97.2" stroke="#93163a" stroke-width="1.3"/>
<path d="M200.0,94.7 V97.2" stroke="#93163a" stroke-width="1.3"/>
<path d="M212.0,94.7 V97.2" stroke="#93163a" stroke-width="1.3"/>
<path d="M224.0,94.7 V97.2" stroke="#93163a" stroke-width="1.3"/>
<path d="M156.0,100.2 V102.7" stroke="#66a048" stroke-width="1.3"/>
<path d="M158.5,100.2 V102.7" stroke="#66a048" stroke-width="1.3"/>
<path d="M161.0,100.2 V102.7" stroke="#66a048" stroke-width="1.3"/>
<path d="M163.5,100.2 V102.7" stroke="#66a048" stroke-width="1.3"/>
<path d="M166.0,100.2 V102.7" stroke="#66a048" stroke-width="1.3"/>
<path d="M193.0,104.8 V107.2" stroke="#66a048" stroke-width="1.3"/>
<path d="M196.0,104.8 V107.2" stroke="#66a048" stroke-width="1.3"/>
<path d="M395.0,68.5 V71.0" stroke="#28406f" stroke-width="1.3"/>
<path d="M401.9,68.5 V71.0" stroke="#28406f" stroke-width="1.3"/>
<path d="M409.7,68.5 V71.0" stroke="#28406f" stroke-width="1.3"/>
<path d="M414.0,68.5 V71.0" stroke="#28406f" stroke-width="1.3"/>
<path d="M417.0,68.5 V71.0" stroke="#28406f" stroke-width="1.3"/>
<path d="M420.0,68.5 V71.0" stroke="#28406f" stroke-width="1.3"/>
<path d="M423.0,68.5 V71.0" stroke="#28406f" stroke-width="1.3"/>
<path d="M426.0,68.5 V71.0" stroke="#28406f" stroke-width="1.3"/>
<path d="M429.6,68.5 V71.0" stroke="#28406f" stroke-width="1.3"/>
<path d="M441.7,68.5 V71.0" stroke="#28406f" stroke-width="1.3"/>
<path d="M453.8,68.5 V71.0" stroke="#28406f" stroke-width="1.3"/>
<path d="M465.9,68.5 V71.0" stroke="#28406f" stroke-width="1.3"/>
<path d="M470.3,68.5 V71.0" stroke="#28406f" stroke-width="1.3"/>
<path d="M420.0,87.8 V90.2" stroke="#93163a" stroke-width="1.3"/>
<path d="M423.0,87.8 V90.2" stroke="#93163a" stroke-width="1.3"/>
<path d="M426.0,87.8 V90.2" stroke="#93163a" stroke-width="1.3"/>
<path d="M429.0,87.8 V90.2" stroke="#93163a" stroke-width="1.3"/>
<path d="M432.0,87.8 V90.2" stroke="#93163a" stroke-width="1.3"/>
<path d="M435.0,87.8 V90.2" stroke="#93163a" stroke-width="1.3"/>
<path d="M438.0,87.8 V90.2" stroke="#93163a" stroke-width="1.3"/>
<path d="M450.0,87.8 V90.2" stroke="#93163a" stroke-width="1.3"/>
<path d="M463.0,87.8 V90.2" stroke="#93163a" stroke-width="1.3"/>
<path d="M478.0,87.8 V90.2" stroke="#93163a" stroke-width="1.3"/>
<path d="M414.0,101.0 V103.5" stroke="#66a048" stroke-width="1.3"/>
<path d="M417.0,101.0 V103.5" stroke="#66a048" stroke-width="1.3"/>
<path d="M420.0,101.0 V103.5" stroke="#66a048" stroke-width="1.3"/>
<path d="M423.0,101.0 V103.5" stroke="#66a048" stroke-width="1.3"/>
<path d="M426.0,101.0 V103.5" stroke="#66a048" stroke-width="1.3"/>
<path d="M431.0,104.2 V106.8" stroke="#66a048" stroke-width="1.3"/>
<path d="M434.0,104.2 V106.8" stroke="#66a048" stroke-width="1.3"/>
<path d="M448.0,104.2 V106.8" stroke="#66a048" stroke-width="1.3"/>
<path d="M452.0,104.2 V106.8" stroke="#66a048" stroke-width="1.3"/>
<path d="M157.0,315.1 V317.6" stroke="#28406f" stroke-width="1.3"/>
<path d="M160.0,315.1 V317.6" stroke="#28406f" stroke-width="1.3"/>
<path d="M163.0,315.1 V317.6" stroke="#28406f" stroke-width="1.3"/>
<path d="M166.0,315.1 V317.6" stroke="#28406f" stroke-width="1.3"/>
<path d="M169.0,315.1 V317.6" stroke="#28406f" stroke-width="1.3"/>
<path d="M172.0,315.1 V317.6" stroke="#28406f" stroke-width="1.3"/>
<path d="M175.0,315.1 V317.6" stroke="#28406f" stroke-width="1.3"/>
<path d="M178.0,315.1 V317.6" stroke="#28406f" stroke-width="1.3"/>
<path d="M181.0,315.1 V317.6" stroke="#28406f" stroke-width="1.3"/>
<path d="M184.0,315.1 V317.6" stroke="#28406f" stroke-width="1.3"/>
<path d="M198.0,315.1 V317.6" stroke="#28406f" stroke-width="1.3"/>
<path d="M210.0,315.1 V317.6" stroke="#28406f" stroke-width="1.3"/>
<path d="M215.0,315.1 V317.6" stroke="#28406f" stroke-width="1.3"/>
<path d="M165.0,335.6 V338.1" stroke="#93163a" stroke-width="1.3"/>
<path d="M168.0,335.6 V338.1" stroke="#93163a" stroke-width="1.3"/>
<path d="M171.0,335.6 V338.1" stroke="#93163a" stroke-width="1.3"/>
<path d="M174.0,335.6 V338.1" stroke="#93163a" stroke-width="1.3"/>
<path d="M177.0,335.6 V338.1" stroke="#93163a" stroke-width="1.3"/>
<path d="M180.0,335.6 V338.1" stroke="#93163a" stroke-width="1.3"/>
<path d="M183.0,335.6 V338.1" stroke="#93163a" stroke-width="1.3"/>
<path d="M197.0,335.6 V338.1" stroke="#93163a" stroke-width="1.3"/>
<path d="M210.0,335.6 V338.1" stroke="#93163a" stroke-width="1.3"/>
<path d="M176.0,343.9 V346.4" stroke="#66a048" stroke-width="1.3"/>
<path d="M193.0,343.9 V346.4" stroke="#66a048" stroke-width="1.3"/>
<path d="M196.0,343.9 V346.4" stroke="#66a048" stroke-width="1.3"/>
<rect x="1.5" y="1.5" width="517" height="465" fill="none" stroke="#848484" stroke-width="1" shape-rendering="crispEdges"/>
<rect x="0.5" y="0.5" width="519" height="467" fill="none" stroke="#000" stroke-width="1" shape-rendering="crispEdges"/></g>
</svg>
</div>
</body></html>
